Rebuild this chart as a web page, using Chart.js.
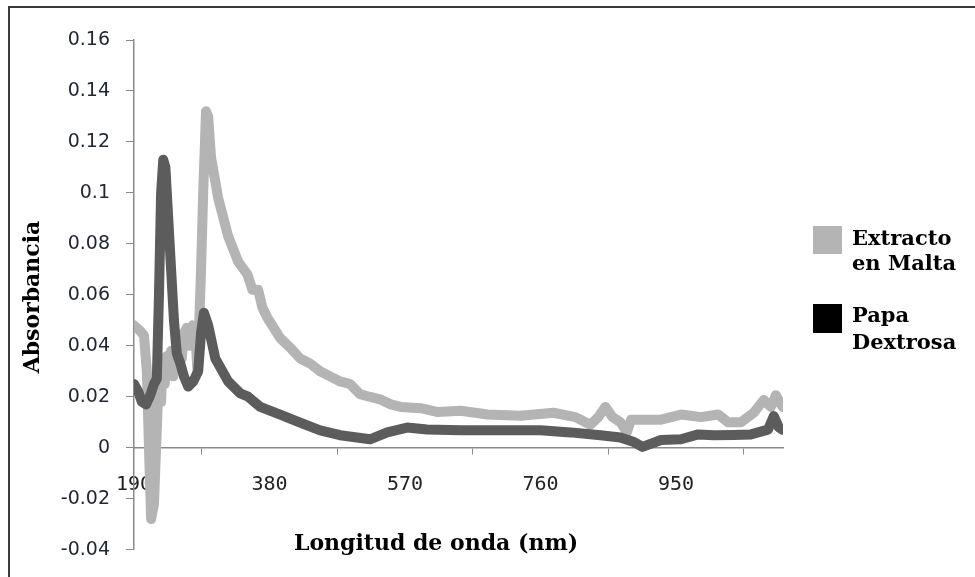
<!DOCTYPE html>
<html>
<head>
<meta charset="utf-8">
<title>Absorbancia</title>
<script src="https://cdn.jsdelivr.net/npm/chart.js@4.4.1/dist/chart.umd.min.js"></script>
<style>
  html, body { margin: 0; padding: 0; background: #fff; }
  #wrap { position: relative; width: 975px; height: 577px; }
</style>
</head>
<body>
<div id="wrap"><canvas id="chart" width="975" height="577"></canvas></div>
<script>
// wavelengths (nm) and absorbance
const maltaNm = [190, 198, 204, 208, 211, 214, 218, 221, 224, 226, 228, 230, 233, 236, 239, 242, 245, 248, 251, 254, 257, 260, 264, 268, 272, 276, 279, 281, 284, 287, 291, 294, 298, 308, 322, 336, 349, 356, 364, 370, 377, 395, 410, 423, 437, 451, 465, 479, 493, 507, 520, 535, 550, 564, 592, 616, 648, 686, 732, 778, 809, 830, 841, 851, 861, 872, 881, 887, 901, 929, 957, 985, 1009, 1023, 1041, 1059, 1073, 1083, 1090, 1097, 1100];
const maltaAbs = [0.048, 0.046, 0.044, 0.030, 0.000, -0.028, -0.022, 0.000, 0.022, 0.035, 0.018, 0.033, 0.025, 0.036, 0.030, 0.038, 0.028, 0.035, 0.032, 0.042, 0.035, 0.045, 0.047, 0.040, 0.048, 0.044, 0.030, 0.045, 0.070, 0.100, 0.132, 0.130, 0.114, 0.098, 0.083, 0.073, 0.068, 0.062, 0.062, 0.055, 0.051, 0.043, 0.039, 0.035, 0.033, 0.030, 0.028, 0.026, 0.025, 0.021, 0.020, 0.019, 0.017, 0.016, 0.0155, 0.014, 0.0145, 0.013, 0.0125, 0.0137, 0.012, 0.009, 0.012, 0.016, 0.012, 0.010, 0.006, 0.011, 0.011, 0.011, 0.013, 0.012, 0.013, 0.010, 0.010, 0.0137, 0.0187, 0.016, 0.0206, 0.017, 0.016];

const dextrosaNm = [190, 196, 201, 207, 212, 218, 222, 225, 228, 231, 234, 238, 242, 246, 250, 255, 260, 266, 273, 280, 284, 288, 294, 304, 322, 339, 350, 367, 395, 423, 451, 479, 521, 545, 573, 601, 648, 704, 760, 802, 844, 872, 891, 903, 929, 957, 981, 1003, 1031, 1055, 1079, 1087, 1094, 1100];
const dextrosaAbs = [0.025, 0.022, 0.018, 0.017, 0.020, 0.025, 0.027, 0.060, 0.100, 0.113, 0.110, 0.090, 0.070, 0.050, 0.037, 0.033, 0.028, 0.024, 0.026, 0.030, 0.045, 0.053, 0.048, 0.035, 0.026, 0.0213, 0.020, 0.016, 0.013, 0.0098, 0.0068, 0.0049, 0.0033, 0.006, 0.0079, 0.0071, 0.0068, 0.0068, 0.0068, 0.006, 0.0049, 0.004, 0.0022, 0.0003, 0.003, 0.0033, 0.0052, 0.0049, 0.005, 0.0052, 0.0071, 0.0124, 0.008, 0.007];

const xLabels = [190, 380, 570, 760, 950];
const xTickMarks = [285, 475, 665, 855, 1045];

const toPoints = (xs, ys) => xs.map((x, i) => ({ x: x, y: ys[i] }));

const decor = {
  id: "decor",
  afterDraw(chart) {
    const ctx = chart.ctx;
    ctx.save();
    // outer frame (left and top edges only visible)
    ctx.strokeStyle = "#3a3a3a";
    ctx.lineWidth = 2;
    ctx.beginPath();
    ctx.moveTo(9, 577);
    ctx.lineTo(9, 7);
    ctx.lineTo(975, 7);
    ctx.stroke();

    ctx.fillStyle = "#000";
    ctx.font = "bold 22px 'DejaVu Serif'";
    ctx.textAlign = "center";
    ctx.textBaseline = "middle";
    ctx.fillText("Longitud de onda (nm)", 436, 544);

    ctx.translate(33, 297);
    ctx.rotate(-Math.PI / 2);
    ctx.fillText("Absorbancia", 0, 0);
    ctx.restore();

    // legend
    ctx.save();
    ctx.fillStyle = "#b4b4b4";
    ctx.fillRect(813, 226, 29, 28);
    ctx.fillStyle = "#000";
    ctx.fillRect(813, 304, 29, 29);
    ctx.font = "bold 21px 'DejaVu Serif'";
    ctx.textAlign = "left";
    ctx.textBaseline = "alphabetic";
    ctx.fillText("Extracto", 852, 245);
    ctx.fillText("en Malta", 852, 270);
    ctx.fillText("Papa", 852, 322);
    ctx.fillText("Dextrosa", 852, 349);
    ctx.restore();
  },
};

new Chart(document.getElementById("chart"), {
  type: "line",
  data: {
    datasets: [
      {
        label: "Papa Dextrosa",
        data: toPoints(dextrosaNm, dextrosaAbs),
        borderColor: "#5c5c5c",
        borderWidth: 10,
        pointRadius: 0,
        borderJoinStyle: "round",
        borderCapStyle: "round",
        tension: 0,
        order: 1,
      },
      {
        label: "Extracto en Malta",
        data: toPoints(maltaNm, maltaAbs),
        borderColor: "#b4b4b4",
        borderWidth: 10,
        pointRadius: 0,
        borderJoinStyle: "round",
        borderCapStyle: "round",
        tension: 0,
        order: 2,
      },
    ],
  },
  options: {
    responsive: false,
    animation: false,
    layout: { padding: { left: 54, top: 40, right: 192, bottom: 16 } },
    plugins: {
      legend: { display: false },
      tooltip: { enabled: false },
    },
    scales: {
      x: {
        type: "linear",
        min: 190,
        max: 1100,
        position: { y: 0 },
        afterBuildTicks: (scale) => {
          scale.ticks = xLabels.concat(xTickMarks).sort((a, b) => a - b).map((v) => ({ value: v }));
        },
        grid: {
          drawOnChartArea: false,
          drawTicks: true,
          tickLength: 6,
          tickColor: (c) => (c.tick && xLabels.includes(c.tick.value) ? "rgba(0,0,0,0)" : "#8a8a8a"),
        },
        border: { color: "#8a8a8a", width: 1.5 },
        ticks: {
          autoSkip: false,
          maxRotation: 0,
          padding: 19,
          color: "#222",
          font: { family: "'DejaVu Sans Mono'", size: 20 },
          callback: (v) => (xLabels.includes(v) ? String(v) : ""),
        },
      },
      y: {
        min: -0.04,
        max: 0.16,
        afterFit: (scale) => { scale.width = 80; },
        grid: {
          drawOnChartArea: false,
          drawTicks: true,
          tickLength: 8,
          tickColor: "#8a8a8a",
        },
        border: { color: "#8a8a8a", width: 1.5 },
        ticks: {
          stepSize: 0.02,
          padding: 16,
          color: "#1f2535",
          font: { family: "'DejaVu Sans'", size: 19 },
          callback: (v) => String(Number(v.toFixed(2))),
        },
      },
    },
  },
  plugins: [decor],
});
</script>
</body>
</html>
